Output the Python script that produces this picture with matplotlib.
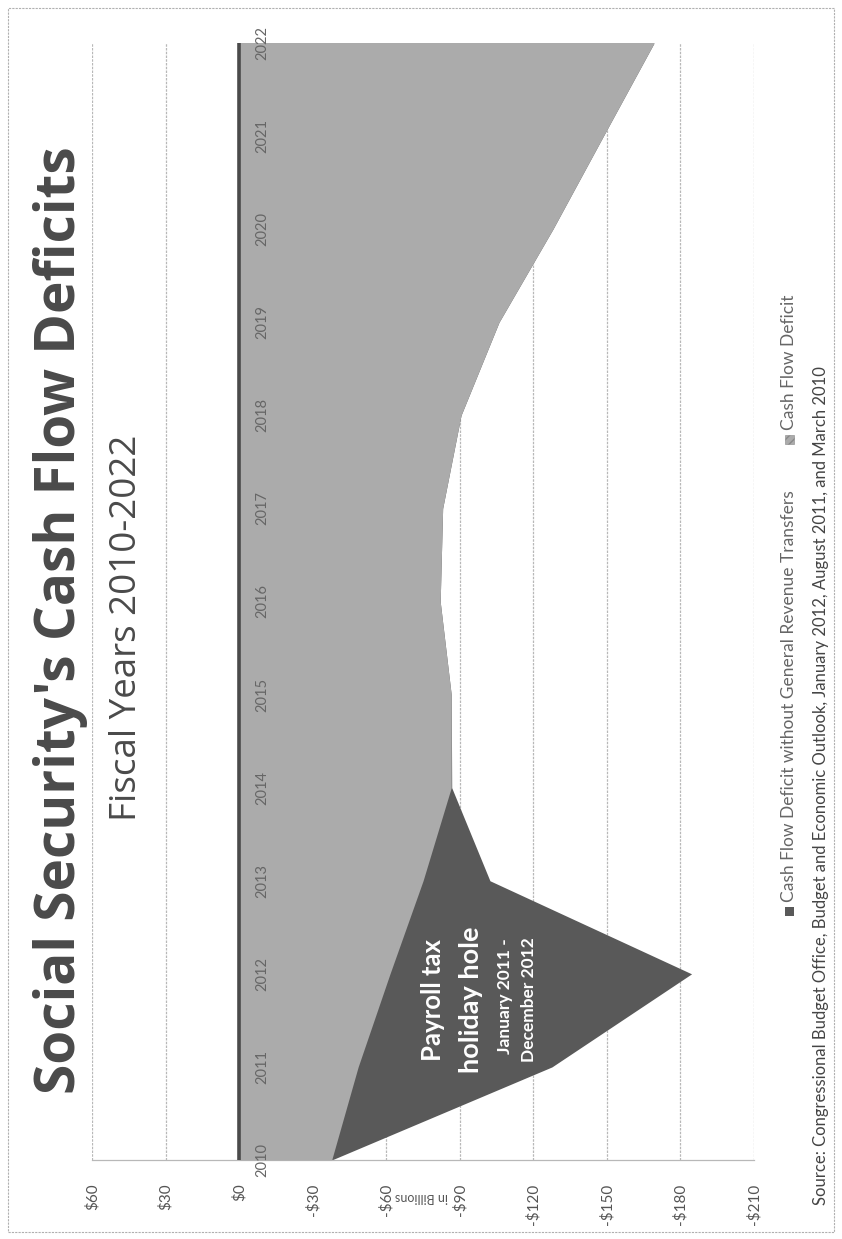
import matplotlib
matplotlib.use('Agg')
import matplotlib.pyplot as plt
from matplotlib.patches import Rectangle
import matplotlib.transforms as mtransforms

# ---------------- data ----------------
years = [2010, 2011, 2012, 2013, 2014, 2015, 2016, 2017, 2018, 2019, 2020, 2021, 2022]
cash_flow_deficit = [-37.7, -48.5, -61.5, -75.0, -86.5, -86.5, -82.0, -83.0, -90.5,
                     -106.0, -128.0, -148.6, -169.3]
deficit_without_transfers = [-37.7, -127.6, -184.6, -102.3, -86.7, -86.5, -82.0, -83.0, -90.5,
                             -106.0, -128.0, -148.6, -169.3]
value_ticks = [60, 30, 0, -30, -60, -90, -120, -150, -180, -210]
value_labels = ['$60', '$30', '$0', '-$30', '-$60', '-$90', '-$120', '-$150', '-$180', '-$210']

title = "Social Security's Cash Flow Deficits"
subtitle = "Fiscal Years 2010-2022"
axis_label = "in Billions"
legend_labels = ["Cash Flow Deficit without General Revenue Transfers", "Cash Flow Deficit"]
annotation_main = ["Payroll tax", "holiday hole"]
annotation_sub = ["January 2011 -", "December 2012"]
source = ("Source: Congressional Budget Office, Budget and Economic Outlook, "
          "January 2012, August 2011, and March 2010")

# ---------------- style ----------------
FONT = ['Lato', 'DejaVu Sans']
plt.rcParams['font.family'] = FONT
DARK = '#595959'
LIGHT = '#ababab'
TXT = '#555555'

W, H = 842, 1239
fig = plt.figure(figsize=(W / 100, H / 100), dpi=100)


def fx(px):
    return px / W


def fy(py):
    return 1 - py / H


left_px, right_px, top_px, bottom_px = 92.3, 753.8, 43, 1160
ax = fig.add_axes([fx(left_px), fy(bottom_px), fx(right_px) - fx(left_px), fy(top_px) - fy(bottom_px)])
ax.set_xlim(60, -210)
ax.set_ylim(years[0], years[-1])

ax.fill_betweenx(years, 0, deficit_without_transfers, color=DARK, lw=0, zorder=2)
ax.fill_betweenx(years, 0, cash_flow_deficit, color=LIGHT, lw=0, zorder=3)
ax.axvline(0, color='#4a4a4a', lw=2.6, zorder=4)

ax.set_axisbelow(True)
ax.set_xticks(value_ticks)
ax.set_xticklabels(value_labels, rotation=90)
ax.grid(axis='x', color='#b8b8b8', lw=0.9, ls=(0, (2, 1)))
ax.tick_params(axis='x', length=0, pad=17, labelsize=11, labelcolor=TXT)
ax.set_yticks([])
for s in ['top', 'left', 'right']:
    ax.spines[s].set_visible(False)
ax.spines['bottom'].set_color('#b8b8b8')
ax.spines['bottom'].set_linewidth(0.9)
ax.spines['bottom'].set_linestyle((0, (2, 1)))

# year labels inside the plot, just right of the zero line
off = mtransforms.offset_copy(ax.transData, fig=fig, x=23, y=0, units='dots')
for yr in years:
    ax.text(0, yr, str(yr), transform=off, rotation=90, ha='center', va='center',
            fontsize=10.5, color='#666666', zorder=5)

# annotation in the dark area
fig.text(fx(433), fy(1000), annotation_main[0], rotation=90, ha='center', va='center',
         fontsize=18.5, fontweight='bold', color='white')
fig.text(fx(471), fy(1000), annotation_main[1], rotation=90, ha='center', va='center',
         fontsize=19.5, fontweight='bold', color='white')
fig.text(fx(505), fy(996), annotation_sub[0], rotation=90, ha='center', va='center',
         fontsize=12.5, fontweight='bold', color='white')
fig.text(fx(529), fy(1000), annotation_sub[1], rotation=90, ha='center', va='center',
         fontsize=12.5, fontweight='bold', color='white')

# titles
fig.text(fx(61), fy(620), title, rotation=90, ha='center', va='center',
         fontsize=39.5, fontweight='bold', color='#4a4a4a', family=['Open Sans', 'DejaVu Sans'])
fig.text(fx(127), fy(628), subtitle, rotation=90, ha='center', va='center',
         fontsize=26.5, color='#4a4a4a', family=['Open Sans', 'DejaVu Sans'])

# axis label (upside down)
fig.text(fx(422), fy(1197), axis_label, rotation=180, ha='center', va='center',
         fontsize=9, color=TXT)

# legend
fig.patches.append(Rectangle((fx(785), fy(916)), 9 / W, 9 / H, transform=fig.transFigure,
                             fc=DARK, ec='none'))
fig.text(fx(789), fy(902), legend_labels[0], rotation=90, ha='center', va='bottom',
         fontsize=12.5, color='#666666')
fig.patches.append(Rectangle((fx(785), fy(444)), 9 / W, 9 / H, transform=fig.transFigure,
                             fc=LIGHT, ec='#888888', lw=0.4, hatch='////'))
fig.text(fx(789), fy(430), legend_labels[1], rotation=90, ha='center', va='bottom',
         fontsize=12.5, color='#666666')

# source
fig.text(fx(821), fy(1205), source, rotation=90, ha='center', va='bottom',
         fontsize=12, color='#444444')

# outer border
fig.patches.append(Rectangle((fx(8), fy(1232)), (834 - 8) / W, (1232 - 8) / H,
                             transform=fig.transFigure, fill=False, ec='#b0b0b0',
                             lw=0.8, ls=(0, (2, 1))))

fig.savefig('out.png', dpi=100, facecolor='white')
